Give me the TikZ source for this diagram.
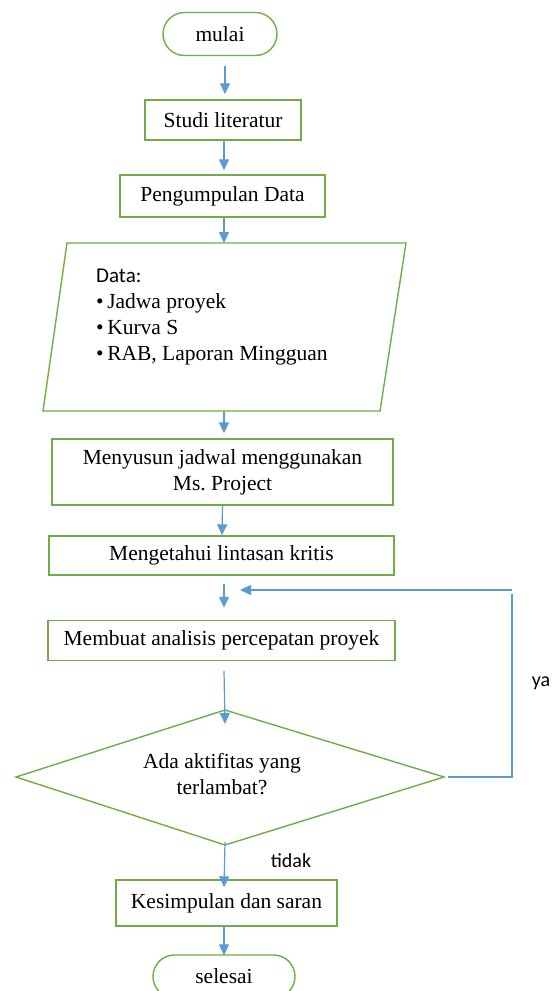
\documentclass[tikz,border=0pt]{standalone}
\usepackage{fontspec}
\setmainfont{Liberation Serif}
\newfontfamily\calib{Carlito}
\usetikzlibrary{arrows.meta,shapes.misc}
\definecolor{boxgreen}{HTML}{70AD47}
\definecolor{arrblue}{HTML}{5B9BD5}
\frenchspacing
\begin{document}
\begin{tikzpicture}[x=1pt,y=-1pt,
  every node/.style={font=\fontsize{21.5}{26}\selectfont},
  procbox/.style={draw=boxgreen,line width=1.4pt,rectangle,inner sep=0pt,align=center},
  termbox/.style={draw=boxgreen,line width=1.4pt,rounded rectangle,inner sep=0pt},
  arr/.style={draw=arrblue,line width=1.2pt,-{Triangle[width=10pt,length=11pt]}},
  lbl/.style={font=\calib\fontsize{20}{24}\selectfont}]
\useasboundingbox (0,0) rectangle (558,991);
\begin{scope}
\clip (0,0) rectangle (558,991);
\node[termbox,minimum width=114pt,minimum height=43pt] (mulai) at (220,34) {mulai};
\node[procbox,minimum width=156pt,minimum height=40pt] (studi) at (223,120) {Studi literatur};
\node[procbox,minimum width=205pt,minimum height=42pt] (kumpul) at (222.5,196) {Pengumpulan Data};
% parallelogram
\coordinate (dTL) at (67,243);
\coordinate (dTR) at (406,243);
\coordinate (dBR) at (380,411);
\coordinate (dBL) at (43,411);
\coordinate (dtop) at (224,243);
\coordinate (dbot) at (224,411);
\draw[boxgreen,line width=1.4pt] (dTL) -- (dTR) -- (dBR) -- (dBL) -- cycle;
\node[anchor=north west,align=left,inner sep=0pt] (datatext) at (96,269)
  {{\calib\fontsize{21}{26}\selectfont Data:}\\\textbullet\,Jadwa proyek\\\textbullet\,Kurva S\\\textbullet\,RAB, Laporan Mingguan};
\node[procbox,minimum width=341pt,minimum height=66pt] (susun) at (222.5,472) {Menyusun jadwal menggunakan\\Ms. Project};
\node[procbox,minimum width=345pt,minimum height=39pt] (kritis) at (221.5,555.5) {Mengetahui lintasan kritis};
\node[procbox,minimum width=347pt,minimum height=40pt] (buat) at (221.5,640.5) {Membuat analisis percepatan proyek};
% diamond
\coordinate (qT) at (225,710);
\coordinate (qR) at (444,777);
\coordinate (qB) at (225,845);
\coordinate (qL) at (16,777);
\draw[boxgreen,line width=1.4pt] (qT) -- (qR) -- (qB) -- (qL) -- cycle;
\node[align=center,inner sep=0pt] (tanya) at (222,774) {Ada aktifitas yang\\terlambat?};
\node[procbox,minimum width=221pt,minimum height=46pt] (simpul) at (226.5,903) {Kesimpulan dan saran};
\node[termbox,minimum width=142pt,minimum height=43pt] (selesai) at (224,976.5) {selesai};
% arrows
\draw[arr] ([xshift=5pt,yshift=-10pt]mulai.south) -- ([xshift=2pt,yshift=5pt]studi.north);
\draw[arr] ([xshift=1pt]studi.south) -- ([xshift=1.5pt,yshift=4pt]kumpul.north);
\draw[arr] ([xshift=1.5pt]kumpul.south) -- (dtop);
\draw[arr] (dbot) -- ([xshift=1.5pt,yshift=5pt]susun.north);
\draw[arr] ([xshift=0pt]susun.south) -- ([xshift=0.5pt]kritis.north);
\draw[arr] ([xshift=2.5pt,yshift=-8pt]kritis.south) -- ([xshift=2.5pt,yshift=12pt]buat.north);
\draw[arr] ([xshift=2.5pt,yshift=-10pt]buat.south) -- ([yshift=-14pt]qT);
\coordinate (loopc1) at (512,777);
\coordinate (loopc2) at (512,590);
\coordinate (loopend) at (240,590);
\draw[draw=arrblue,line width=1.2pt] ([xshift=4pt]qR) -- (loopc1) -- ([yshift=-4pt]loopc2);
\draw[arr] (loopc2) -- (loopend);
\draw[arr] ([yshift=3pt]qB) -- ([xshift=-2.5pt,yshift=-8pt]simpul.north);
\draw[arr] ([xshift=-2.5pt,yshift=2pt]simpul.south) -- ([yshift=-1pt]selesai.north);
\node[lbl] (ya) at (541,683) {ya};
\node[lbl] (tidak) at (291,861) {tidak};
\end{scope}
\end{tikzpicture}
\end{document}
